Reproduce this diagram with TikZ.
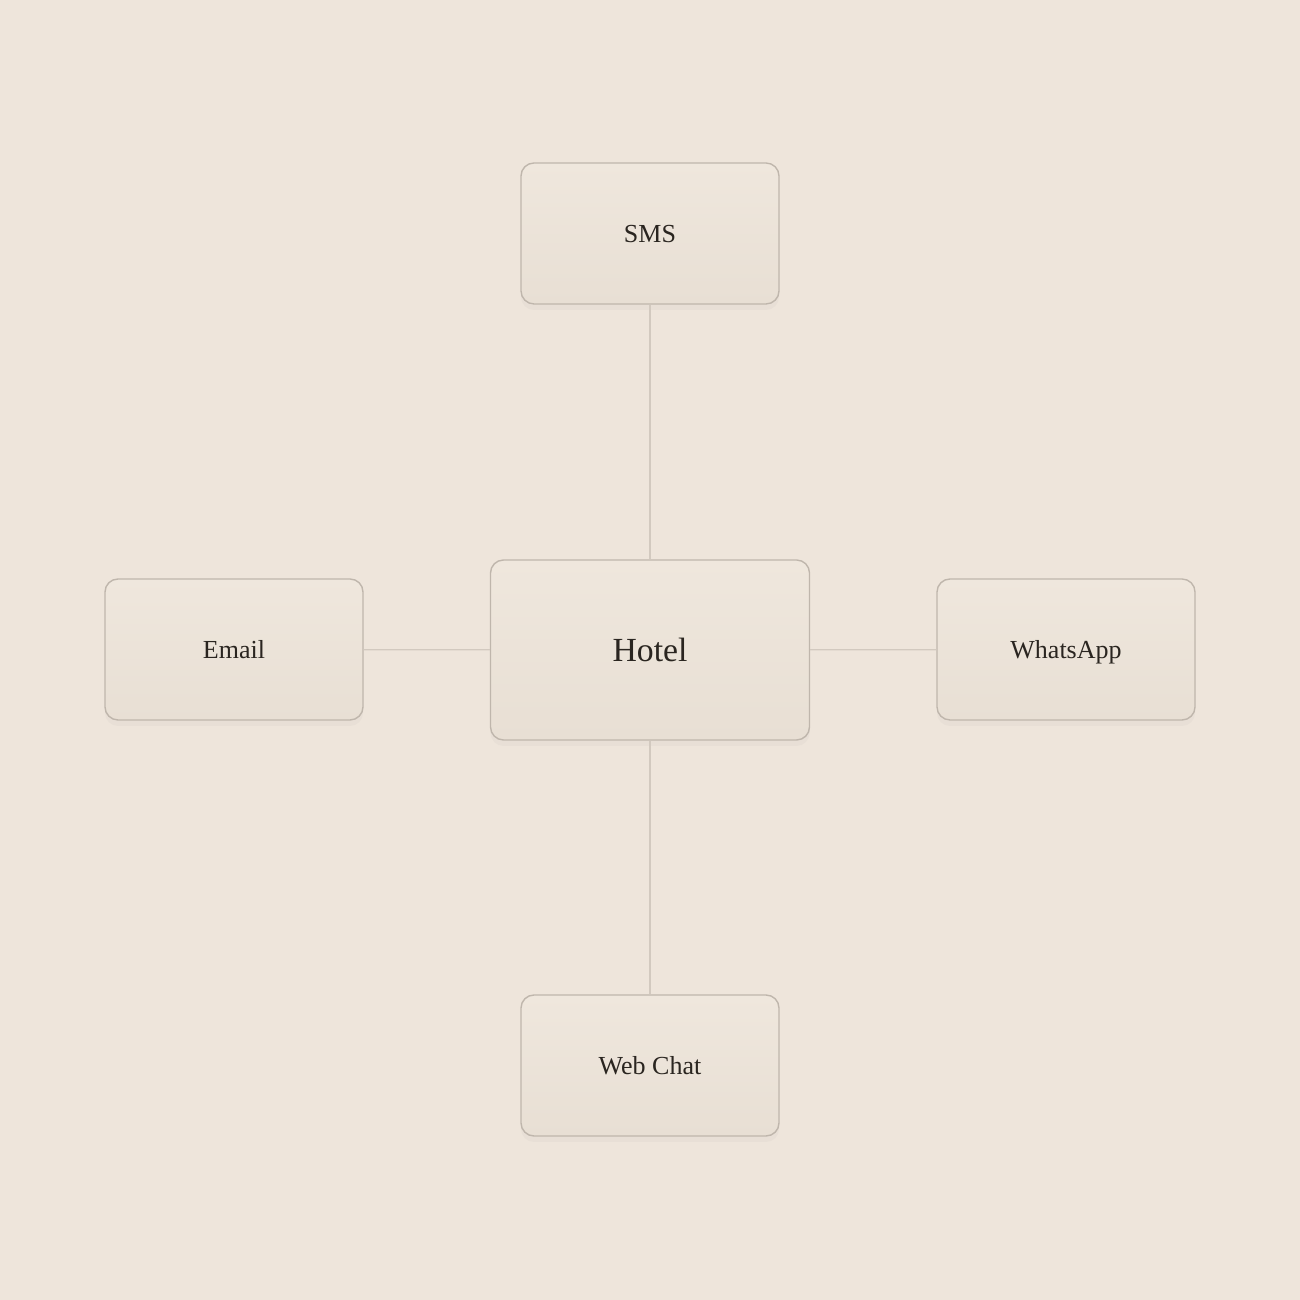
\documentclass[tikz,border=0pt]{standalone}
\usepackage{fontspec}
\setmainfont{Liberation Serif}
\usepackage{tikz}
\usetikzlibrary{shadows}
\definecolor{paper}{HTML}{EEE5DB}
\definecolor{boxtop}{HTML}{EFE7DD}
\definecolor{boxbot}{HTML}{E8DFD4}
\definecolor{boxline}{HTML}{BFB6AC}
\definecolor{wire}{HTML}{D2C9BF}
\definecolor{ink}{HTML}{2A2520}

\begin{document}
\begin{tikzpicture}
  [every node/.style={rectangle,rounded corners=0.13cm,draw=boxline,line width=0.4pt,
     top color=boxtop,bottom color=boxbot,text=ink,font=\fontsize{7.4}{9}\selectfont,
     minimum width=2.58cm,minimum height=1.41cm,inner sep=0pt,
     text height=0.18cm,text depth=0cm,
     drop shadow={opacity=0.05,shadow xshift=0cm,shadow yshift=-0.06cm}},
   hub/.style={minimum width=3.19cm,minimum height=1.80cm,font=\fontsize{9.6}{12}\selectfont,
     text height=0.24cm}]
  \fill[paper] (0,0) rectangle (13,13);
  \useasboundingbox (0,0) rectangle (13,13);

  \node[hub] (hotel) at (6.5,6.5) {Hotel};
  \node (sms) at (6.5,10.665) {SMS};
  \node (email) at (2.34,6.505) {Email};
  \node (whatsapp) at (10.66,6.505) {WhatsApp};
  \node (webchat) at (6.5,2.345) {Web Chat};

  \foreach \from/\to in {hotel/sms,hotel/email,hotel/whatsapp,hotel/webchat}
    \draw[wire,line width=0.35pt] (\from) -- (\to);

\end{tikzpicture}
\end{document}
